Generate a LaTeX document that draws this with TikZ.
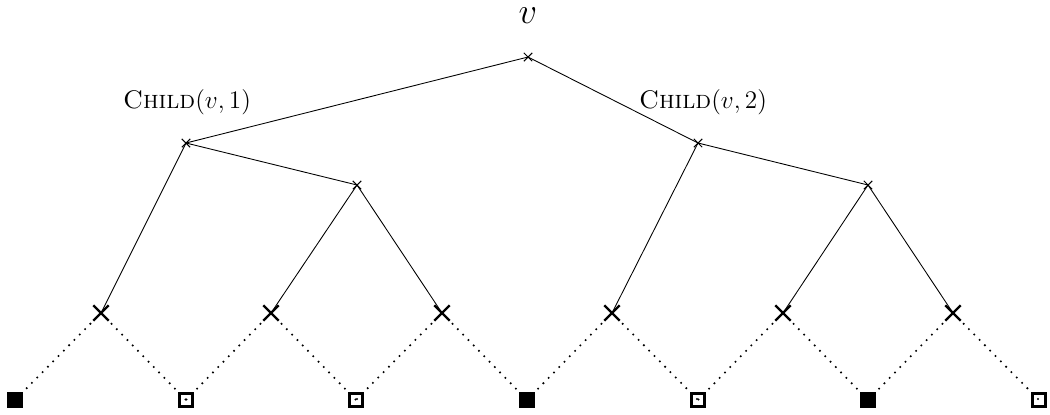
\documentclass[tikz,border=0pt]{standalone}
\usetikzlibrary{shapes.misc}
\begin{document}
\begin{tikzpicture}[x=0.02cm,y=-0.02cm,
  smallx/.style={cross out,draw,minimum size=4.2pt,inner sep=0pt,line width=0.6pt},
  bigx/.style={cross out,draw,minimum size=7.5pt,inner sep=0pt,line width=1.3pt},
  fsq/.style={rectangle,draw,fill=black,minimum size=8pt,inner sep=0pt,line width=1pt},
  hsq/.style={rectangle,draw,minimum size=7.4pt,inner sep=0pt,line width=1.5pt},
  tedge/.style={line width=0.5pt},
  dedge/.style={line width=1.3pt,line cap=round,dash pattern=on 0pt off 4.3pt},
  lab/.style={font=\fontsize{14.5}{17}\selectfont,inner sep=0pt}]
\useasboundingbox (0,0) rectangle (1050,414);
% internal nodes
\node[smallx] (r) at (528,57) {};
\node[smallx] (a) at (186,143) {};
\node[smallx] (b) at (698,143) {};
\node[smallx] (a2) at (357,185) {};
\node[smallx] (b2) at (868,185) {};
% level-3 crosses
\node[bigx] (x1) at (101,313) {};
\node[bigx] (x2) at (271,313) {};
\node[bigx] (x3) at (442,313) {};
\node[bigx] (x4) at (612,313) {};
\node[bigx] (x5) at (783,313) {};
\node[bigx] (x6) at (953,313) {};
% leaves
\coordinate (l1) at (15,400);
\coordinate (l2) at (186,400);
\coordinate (l3) at (356,400);
\coordinate (l4) at (527,400);
\coordinate (l5) at (698,400);
\coordinate (l6) at (868,400);
\coordinate (l7) at (1039,400);
% labels
\node[font=\fontsize{21}{24}\selectfont,inner sep=0pt] (v) at (528,16) {$v$};
\node[lab] (ca) at (187,102) {\textsc{Child}$(v,1)$};
\node[lab] (cb) at (703,102) {\textsc{Child}$(v,2)$};
% tree edges
\draw[tedge] (r.center) -- (a.center);
\draw[tedge] (r.center) -- (b.center);
\draw[tedge] (a.center) -- (x1.center);
\draw[tedge] (a.center) -- (a2.center);
\draw[tedge] (a2.center) -- (x2.center);
\draw[tedge] (a2.center) -- (x3.center);
\draw[tedge] (b.center) -- (x4.center);
\draw[tedge] (b.center) -- (b2.center);
\draw[tedge] (b2.center) -- (x5.center);
\draw[tedge] (b2.center) -- (x6.center);
% dotted edges
\draw[dedge] (x1.center) -- (l1);
\draw[dedge] (x1.center) -- (l2);
\draw[dedge] (x2.center) -- (l2);
\draw[dedge] (x2.center) -- (l3);
\draw[dedge] (x3.center) -- (l3);
\draw[dedge] (x3.center) -- (l4);
\draw[dedge] (x4.center) -- (l4);
\draw[dedge] (x4.center) -- (l5);
\draw[dedge] (x5.center) -- (l5);
\draw[dedge] (x5.center) -- (l6);
\draw[dedge] (x6.center) -- (l6);
\draw[dedge] (x6.center) -- (l7);
% squares
\node[fsq] (s1) at (l1) {};
\node[hsq] (s2) at (l2) {};
\node[hsq] (s3) at (l3) {};
\node[fsq] (s4) at (l4) {};
\node[hsq] (s5) at (l5) {};
\node[fsq] (s6) at (l6) {};
\node[hsq] (s7) at (l7) {};
\end{tikzpicture}
\end{document}
